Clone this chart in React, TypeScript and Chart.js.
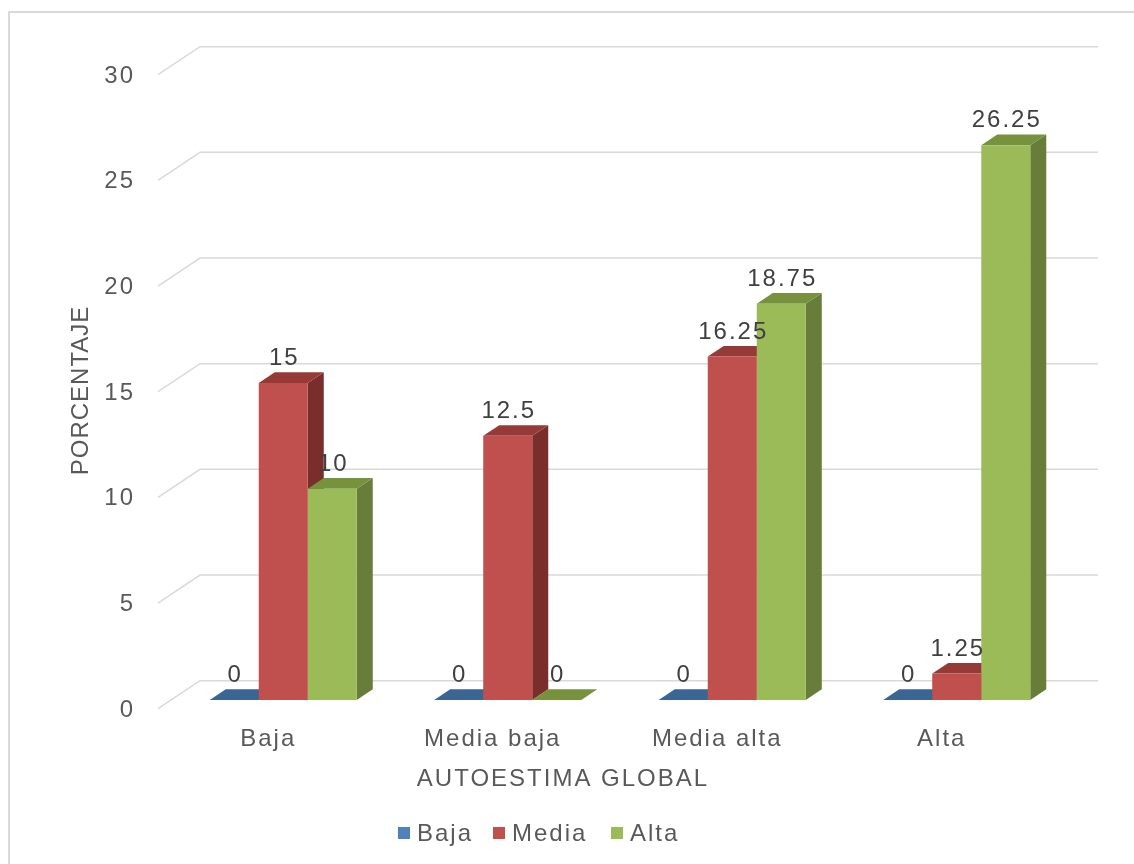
import React, { useEffect, useRef } from "react";
import { Chart, registerables } from "chart.js";

Chart.register(...registerables);

// ---- data ----
const categories = ["Baja", "Media baja", "Media alta", "Alta"];
const seriesNames = ["Baja", "Media", "Alta"];
const bajaValues = [0, 0, 0, 0];
const mediaValues = [15, 12.5, 16.25, 1.25];
const altaValues = [10, 0, 18.75, 26.25];
const yTicks = [0, 5, 10, 15, 20, 25, 30];
const xTitle = "AUTOESTIMA GLOBAL";
const yTitle = "PORCENTAJE";

const seriesValues = [bajaValues, mediaValues, altaValues];

// ---- styles ----
const FRONT_COLORS = ["#4f81bd", "#c0504d", "#9bbb59"];
const SIDE_COLORS = ["#2f4e74", "#7a2e2c", "#677d39"];
const TOP_COLORS = ["#3b6593", "#963a38", "#76923c"];
const FONT_FAMILY = "'Liberation Sans', Arial, sans-serif";
const FONT_SIZE = 24;
const LS = 2;
const TEXT_COLOR = "#595959";
const LABEL_COLOR = "#404040";
const GRID_COLOR = "#d9d9d9";

// oblique depth offsets relative to the bar-front plane
const FRONT = { dx: -13, dy: 8.67 };
const DEPTH = { dx: 16, dy: -10.67 };
const BACK = { dx: 29, dy: -19.33 };

const setLS = (ctx: any, v: number) => {
  ctx.letterSpacing = v + "px";
};

const bar3dPlugin = {
  id: "bar3d",
  beforeUpdate(chart: any) {
    setLS(chart.ctx, LS);
  },
  beforeDraw(chart: any) {
    const ctx = chart.ctx;
    setLS(ctx, LS);
    ctx.save();
    ctx.strokeStyle = "#d9d9d9";
    ctx.lineWidth = 2;
    ctx.beginPath();
    ctx.moveTo(9, 864);
    ctx.lineTo(9, 12);
    ctx.lineTo(1134, 12);
    ctx.stroke();
    ctx.restore();
  },
  beforeDatasetsDraw(chart: any) {
    const { ctx, chartArea, scales } = chart;
    const { left, right } = chartArea;
    const y = scales.y;
    ctx.save();
    ctx.strokeStyle = GRID_COLOR;
    ctx.lineWidth = 1.5;
    for (const v of yTicks) {
      const py = y.getPixelForValue(v);
      ctx.beginPath();
      ctx.moveTo(left + FRONT.dx, py + FRONT.dy);
      ctx.lineTo(left + BACK.dx, py + BACK.dy);
      ctx.lineTo(right + BACK.dx, py + BACK.dy);
      ctx.stroke();
    }
    // side and top faces, left to right
    const metas = seriesNames.map((_, i) => chart.getDatasetMeta(i));
    for (let c = 0; c < categories.length; c++) {
      for (let i = 0; i < metas.length; i++) {
        const el = metas[i].data[c];
        if (!el) continue;
        const { x, y: top, base, width } = el.getProps(["x", "y", "base", "width"], true);
        const l = x - width / 2;
        const r = x + width / 2;
        ctx.fillStyle = SIDE_COLORS[i];
        ctx.beginPath();
        ctx.moveTo(r, top);
        ctx.lineTo(r + DEPTH.dx, top + DEPTH.dy);
        ctx.lineTo(r + DEPTH.dx, base + DEPTH.dy);
        ctx.lineTo(r, base);
        ctx.closePath();
        ctx.fill();
        ctx.fillStyle = TOP_COLORS[i];
        ctx.beginPath();
        ctx.moveTo(l, top);
        ctx.lineTo(r, top);
        ctx.lineTo(r + DEPTH.dx, top + DEPTH.dy);
        ctx.lineTo(l + DEPTH.dx, top + DEPTH.dy);
        ctx.closePath();
        ctx.fill();
      }
    }
    ctx.restore();
  },
  afterDatasetsDraw(chart: any) {
    const ctx = chart.ctx;
    ctx.save();
    setLS(ctx, LS);
    ctx.font = `${FONT_SIZE}px ${FONT_FAMILY}`;
    ctx.fillStyle = LABEL_COLOR;
    ctx.textAlign = "center";
    ctx.textBaseline = "middle";
    seriesNames.forEach((_, i) => {
      const meta = chart.getDatasetMeta(i);
      meta.data.forEach((el: any, c: number) => {
        const { x, y } = el.getProps(["x", "y"], true);
        ctx.fillText(String(seriesValues[i][c]), x + LS / 2, y - 24.5);
      });
    });
    ctx.restore();
  },
  afterDraw(chart: any) {
    const ctx = chart.ctx;
    ctx.save();
    setLS(ctx, LS);
    ctx.font = `${FONT_SIZE}px ${FONT_FAMILY}`;
    ctx.fillStyle = TEXT_COLOR;
    // x axis title
    ctx.textAlign = "center";
    ctx.textBaseline = "alphabetic";
    ctx.fillText(xTitle, 562 + LS / 2, 786);
    // y axis title
    ctx.save();
    setLS(ctx, 1);
    ctx.translate(88, 391);
    ctx.rotate(-Math.PI / 2);
    ctx.fillText(yTitle, 0.5, 0);
    ctx.restore();
    // legend
    const legendX = [398, 493, 611];
    ctx.textAlign = "left";
    seriesNames.forEach((name, i) => {
      ctx.fillStyle = FRONT_COLORS[i];
      ctx.fillRect(legendX[i], 827, 12, 12);
      ctx.fillStyle = TEXT_COLOR;
      ctx.fillText(name, legendX[i] + 19, 841);
    });
    ctx.restore();
  },
};

export default function App() {
  const ref = useRef<HTMLCanvasElement>(null);
  useEffect(() => {
    const font = { family: FONT_FAMILY, size: FONT_SIZE };
    const chart = new Chart(ref.current as HTMLCanvasElement, {
      type: "bar",
      data: {
        labels: categories,
        datasets: seriesNames.map((name, i) => ({
          label: name,
          data: seriesValues[i],
          backgroundColor: FRONT_COLORS[i],
          borderWidth: 0,
          categoryPercentage: 0.655,
          barPercentage: 1,
        })),
      },
      options: {
        responsive: false,
        animation: false,
        devicePixelRatio: 1,
        layout: { padding: { left: 0, right: 65, top: 66, bottom: 0 } },
        plugins: { legend: { display: false }, tooltip: { enabled: false } },
        scales: {
          x: {
            grid: { display: false, drawTicks: false },
            border: { display: false },
            ticks: {
              font,
              color: TEXT_COLOR,
              padding: 25,
              labelOffset: -15,
              maxRotation: 0,
              autoSkip: false,
            },
            afterFit: (s: any) => {
              s.height = 164;
            },
          },
          y: {
            min: 0,
            max: 30,
            grid: { display: false, drawTicks: false },
            border: { display: false },
            ticks: { font, color: TEXT_COLOR, stepSize: 5, padding: 36, labelOffset: 10 },
            afterFit: (s: any) => {
              s.width = 171;
            },
          },
        },
      } as any,
      plugins: [bar3dPlugin],
    });
    return () => chart.destroy();
  }, []);
  return (
    <div style={{ position: "absolute", left: 0, top: 0, width: 1134, height: 864, background: "#fff" }}>
      <canvas ref={ref} width={1134} height={864} />
    </div>
  );
}
